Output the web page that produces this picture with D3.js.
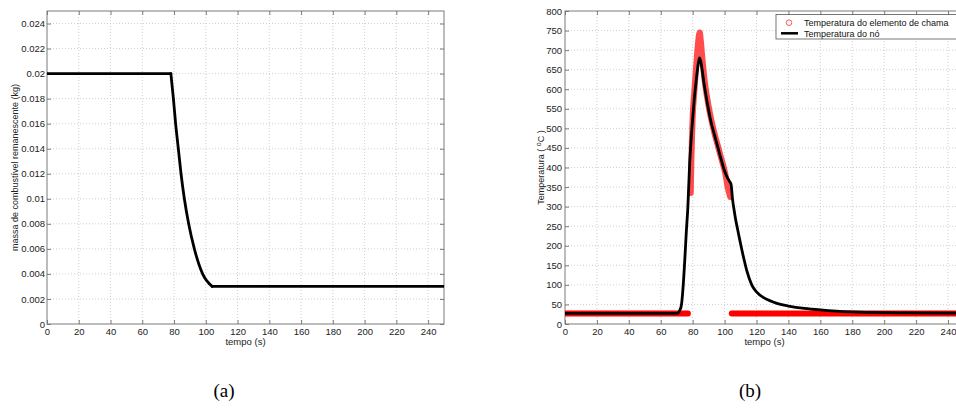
<!DOCTYPE html>
<html>
<head>
<meta charset="utf-8">
<script src="https://cdn.jsdelivr.net/npm/d3@7"></script>
<style>
  body { margin: 0; background: #fff; }
  svg { display: block; font-family: "Liberation Sans", Arial, Helvetica, sans-serif; }
</style>
</head>
<body>
<svg id="fig" width="956" height="409"></svg>
<script>
// ---- Panel (a): remaining fuel mass (kg) over time (s)
const massTime  = [0, 78, 79.6, 81, 82.7, 84.4, 86.5, 89.2, 92.8, 98, 104, 250];
const massValue = [0.02, 0.02, 0.018, 0.016, 0.014, 0.012, 0.010, 0.008, 0.006, 0.004, 0.003, 0.003];

// ---- Panel (b): node temperature (°C)
const nodeTime = [0, 70, 71, 72, 73, 74, 75, 76, 77, 78, 79, 80, 81, 82, 83, 84.2,
  85, 86, 87, 88, 89, 90, 91, 92, 93, 94, 95, 96, 97, 98, 99, 100, 101, 102, 103, 104,
  105, 106, 107, 108, 109, 110, 112, 114, 117, 120, 125, 130, 135, 140, 150, 160, 170, 180, 200, 214, 250];
const nodeTemp = [27, 27, 29, 36, 50, 95, 160, 235, 300, 400, 470, 525, 575, 615, 650, 680,
  672, 648, 618, 592, 568, 546, 526, 508, 493, 478, 463, 448, 433, 418, 404, 391, 381, 372, 365, 358,
  318, 290, 265, 245, 225, 205, 168, 135, 100, 82, 66, 57, 50, 46, 40, 36, 33, 31, 29, 28.5, 27.5];

// ---- Panel (b): flame element temperature (°C), burning phase
const flameTime = [78.8, 79.2, 79.6, 80, 81, 82, 83, 84, 84.5, 85, 86, 87, 88, 89, 90, 92, 94, 96, 98, 100, 101, 102, 103, 103.5];
const flameTemp = [335, 420, 480, 530, 592, 648, 702, 740, 745, 728, 682, 640, 606, 580, 556, 516, 482, 452, 422, 392, 372, 348, 332, 325];
// flame element at ambient temperature before ignition and after extinction
const ambientBeforeTime = [0, 77];
const ambientBeforeTemp = [27, 27];
const ambientAfterTime  = [104.5, 250];
const ambientAfterTemp  = [27, 27];

// ---- Ticks
const timeTicks = [0, 20, 40, 60, 80, 100, 120, 140, 160, 180, 200, 220, 240];
const massTicks = [0, 0.002, 0.004, 0.006, 0.008, 0.010, 0.012, 0.014, 0.016, 0.018, 0.020, 0.022, 0.024];
const massTickLabels = ["0", "0.002", "0.004", "0.006", "0.008", "0.01", "0.012", "0.014", "0.016", "0.018", "0.02", "0.022", "0.024"];
const tempTicks = [0, 50, 100, 150, 200, 250, 300, 350, 400, 450, 500, 550, 600, 650, 700, 750, 800];

const legendLabels = ["Temperatura do elemento de chama", "Temperatura do nó"];
const captions = ["(a)", "(b)"];

const svg = d3.select("#fig");
const TOP = 11, BOTTOM = 324;

function panel(id, left, right, yDomain, yTicks, yFormat, yPad) {
  const x = d3.scaleLinear().domain([0, 250]).range([left, right]);
  const y = d3.scaleLinear().domain(yDomain).range([BOTTOM, TOP]);
  const g = svg.append("g");

  // dotted grid
  const grid = g.append("g").attr("stroke", "#c4c4c4").attr("stroke-width", 0.8)
    .attr("stroke-dasharray", "1,2");
  grid.selectAll("line.v").data(timeTicks.filter(t => t > 0)).join("line")
    .attr("x1", d => x(d)).attr("x2", d => x(d)).attr("y1", TOP).attr("y2", BOTTOM);
  grid.selectAll("line.h").data(yTicks.filter(t => t > yDomain[0] && t < yDomain[1])).join("line")
    .attr("x1", left).attr("x2", right).attr("y1", d => y(d)).attr("y2", d => y(d));

  // clip for the data
  svg.append("clipPath").attr("id", id).append("rect")
    .attr("x", left).attr("y", TOP).attr("width", right - left).attr("height", BOTTOM - TOP);

  // axes with inward ticks on all four sides
  const fmtX = d => String(d);
  const ax = g.append("g").attr("class", "axes");
  const styleAxis = sel => {
    sel.select(".domain").remove();
    sel.selectAll(".tick line").attr("stroke", "#7a7a7a");
    sel.selectAll(".tick text").attr("fill", "#222").style("font-size", "9.5px")
      .style("font-family", "'Liberation Sans', Arial, sans-serif");
  };
  ax.append("g").attr("transform", `translate(0,${BOTTOM})`)
    .call(d3.axisBottom(x).tickValues(timeTicks).tickFormat(fmtX).tickSize(-4).tickPadding(4))
    .call(styleAxis);
  ax.append("g").attr("transform", `translate(0,${TOP})`)
    .call(d3.axisTop(x).tickValues(timeTicks).tickFormat("").tickSize(-4))
    .call(styleAxis);
  ax.append("g").attr("transform", `translate(${left},0)`)
    .call(d3.axisLeft(y).tickValues(yTicks).tickFormat(yFormat).tickSize(-4).tickPadding(yPad))
    .call(styleAxis);
  ax.append("g").attr("transform", `translate(${right},0)`)
    .call(d3.axisRight(y).tickValues(yTicks).tickFormat("").tickSize(-4))
    .call(styleAxis);

  g.append("rect").attr("x", left).attr("y", TOP).attr("width", right - left).attr("height", BOTTOM - TOP)
    .attr("fill", "none").attr("stroke", "#7a7a7a").attr("stroke-width", 1);

  // x label
  g.append("text").attr("x", (left + right) / 2).attr("y", 345).attr("text-anchor", "middle")
    .attr("fill", "#222").style("font-size", "9.5px").text("tempo (s)");

  return { x, y, g, clip: `url(#${id})` };
}

// ---------------- Panel (a)
const A = panel("clipA", 47, 444, [0, 0.025], massTicks, (d, i) => massTickLabels[i], 2);
// plateau – burning – residue, each smoothed on its own so the corners stay sharp
const burnStart = massTime.indexOf(78), burnEnd = massTime.indexOf(104);
const massPieces = [[0, burnStart], [burnStart, burnEnd], [burnEnd, massTime.length - 1]];
const massLine = d3.line().x(i => A.x(massTime[i])).y(i => A.y(massValue[i])).curve(d3.curveMonotoneX);
A.g.append("g").attr("clip-path", A.clip).selectAll("path").data(massPieces).join("path")
  .attr("d", ([a, b]) => massLine(d3.range(a, b + 1)))
  .attr("fill", "none").attr("stroke", "#000").attr("stroke-width", 2.8)
  .attr("stroke-linejoin", "round").attr("stroke-linecap", "round");
A.g.append("text").attr("transform", "translate(18,167.5) rotate(-90)").attr("text-anchor", "middle")
  .attr("fill", "#222").style("font-size", "9px").text("massa de combustível remanescente (kg)");

// ---------------- Panel (b)
const B = panel("clipB", 565, 964, [0, 800], tempTicks, d => String(d), 3);
const tLine = (times) => d3.line().x((d, i) => B.x(times[i])).y(d => B.y(d)).curve(d3.curveMonotoneX);

const red = B.g.append("g").attr("clip-path", B.clip).attr("fill", "none").attr("stroke-linecap", "round")
  .attr("stroke-linejoin", "round");
red.append("path").attr("d", tLine(ambientBeforeTime)(ambientBeforeTemp)).attr("stroke", "#ff0000").attr("stroke-width", 6);
red.append("path").attr("d", tLine(ambientAfterTime)(ambientAfterTemp)).attr("stroke", "#ff0000").attr("stroke-width", 6);
red.append("path").attr("d", tLine(flameTime)(flameTemp)).attr("stroke", "#ff2020").attr("stroke-opacity", 0.8)
  .attr("stroke-width", 6);

B.g.append("path").attr("clip-path", B.clip).attr("d", tLine(nodeTime)(nodeTemp))
  .attr("fill", "none").attr("stroke", "#000").attr("stroke-width", 2.8).attr("stroke-linejoin", "round");

const yl = B.g.append("text").attr("transform", "translate(544,167.5) rotate(-90)").attr("text-anchor", "middle")
  .attr("fill", "#222").style("font-size", "9px");
yl.append("tspan").text("Temperatura ( ");
yl.append("tspan").attr("dy", -3.5).style("font-size", "7px").text("o");
yl.append("tspan").attr("dy", 3.5).text("C )");

// legend
const lg = B.g.append("g");
lg.append("rect").attr("x", 776).attr("y", 14.5).attr("width", 200).attr("height", 24.5)
  .attr("fill", "#fff").attr("stroke", "#555").attr("stroke-width", 0.8);
lg.append("circle").attr("cx", 789).attr("cy", 22.7).attr("r", 2.8)
  .attr("fill", "none").attr("stroke", "#ff3030").attr("stroke-width", 0.8);
lg.append("line").attr("x1", 781).attr("x2", 798).attr("y1", 33.3).attr("y2", 33.3)
  .attr("stroke", "#000").attr("stroke-width", 2.5);
lg.selectAll("text").data(legendLabels).join("text")
  .attr("x", 804).attr("y", (d, i) => 26 + i * 10.6).attr("fill", "#111").style("font-size", "9px").text(d => d);

// captions
svg.selectAll("text.cap").data(captions).join("text").attr("class", "cap")
  .attr("x", (d, i) => [224, 750][i]).attr("y", 397).attr("text-anchor", "middle")
  .style("font-family", "'Liberation Serif', 'Times New Roman', serif").style("font-size", "19px")
  .attr("fill", "#000").text(d => d);
</script>
</body>
</html>
